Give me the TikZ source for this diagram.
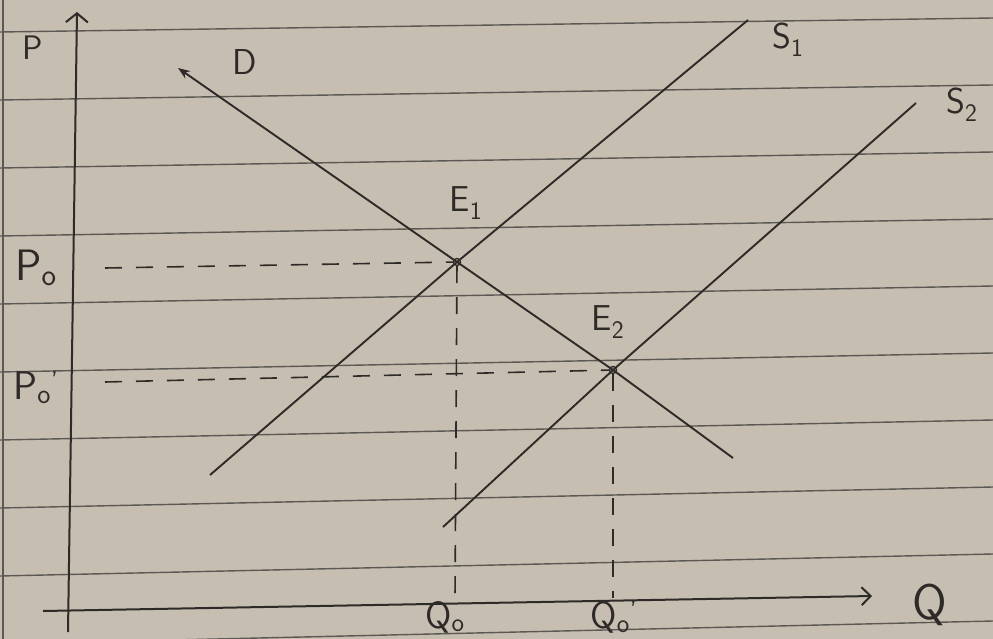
\documentclass[tikz,border=0pt]{standalone}
\usepackage{tikz}
\usetikzlibrary{arrows.meta}
\definecolor{paper}{RGB}{198,190,176}
\definecolor{ink}{RGB}{45,42,40}
\definecolor{rule}{RGB}{92,88,83}
\newcommand{\hsz}[1]{\fontsize{#1}{#1}\selectfont}

\begin{document}
\begin{tikzpicture}[x=1pt,y=-1pt,
 ax/.style={draw=ink,line width=2pt},
 cv/.style={draw=ink,line width=1.9pt},
 dsh/.style={draw=ink,line width=1.6pt,dash pattern=on 17pt off 14pt},
 ln/.style={draw=rule,line width=1.4pt},
 eq/.style={circle,draw=ink,line width=1.4pt,inner sep=0pt,minimum size=7pt},
 lb/.style={text=ink,inner sep=0pt,font=\sffamily\hsz{36}}
]
\fill[paper] (0,0) rectangle (993,639);
\useasboundingbox (0,0) rectangle (993,639);
\foreach \k in {0,...,9} \draw[ln] (0,{32+68*\k}) -- (993,{18+67*\k});
\draw[ln] (3,0) -- (3,639);

\coordinate (ybot) at (68,632); \coordinate (ytop) at (77,12);
\coordinate (xl) at (43,611); \coordinate (xr) at (872,596);
\draw[ax,-{Straight Barb[length=9pt,width=22pt]}] (ybot) -- (ytop);
\draw[ax,-{Straight Barb[length=9pt,width=18pt]}] (xl) -- (xr);

\node[eq] (E1) at (457,262) {};
\node[eq] (E2) at (613,370) {};
\coordinate (d1) at (178,68); \coordinate (d2) at (733,458);
\coordinate (s1a) at (210,475); \coordinate (s1b) at (748,20);
\coordinate (s2a) at (443,527); \coordinate (s2b) at (916,103);
\draw[cv,{Stealth[length=12pt,width=9pt]}-] (d1) -- (E1.center) -- (E2.center) -- (d2);
\draw[cv] (s1a) -- (E1.center) -- (s1b);
\draw[cv] (s2a) -- (E2.center) -- (s2b);

\coordinate (p0) at (105,268); \coordinate (p1) at (105,382);
\coordinate (q0) at (455,598); \coordinate (q1) at (613,598);
\draw[dsh] (p0) -- (E1); \draw[dsh] (p1) -- (E2);
\draw[dsh] (E1) -- (q0); \draw[dsh] (E2) -- (q1);

\node[lb,font=\sffamily\hsz{34}] (Pl) at (33,48) {P};
\node[lb] (Dl) at (245,62) {D};
\node[lb,anchor=west] (S1l) at (772,40) {S\textsubscript{1}};
\node[lb,anchor=west] (S2l) at (946,105) {S\textsubscript{2}};
\node[lb] (E1l) at (466,203) {E\textsubscript{1}};
\node[lb] (E2l) at (608,322) {E\textsubscript{2}};
\node[lb,font=\sffamily\hsz{44}] (P0l) at (36,268) {P\textsubscript{o}};
\node[lb,font=\sffamily\hsz{40}] (P1l) at (36,387) {P\textsubscript{o}\textsuperscript{'}};
\node[lb,font=\sffamily\hsz{38}] (Q0l) at (445,617) {Q\textsubscript{o}};
\node[lb,font=\sffamily\hsz{38}] (Q1l) at (614,617) {Q\textsubscript{o}\textsuperscript{'}};
\node[lb,font=\sffamily\hsz{50}] (Ql) at (930,605) {Q};
\end{tikzpicture}
\end{document}
